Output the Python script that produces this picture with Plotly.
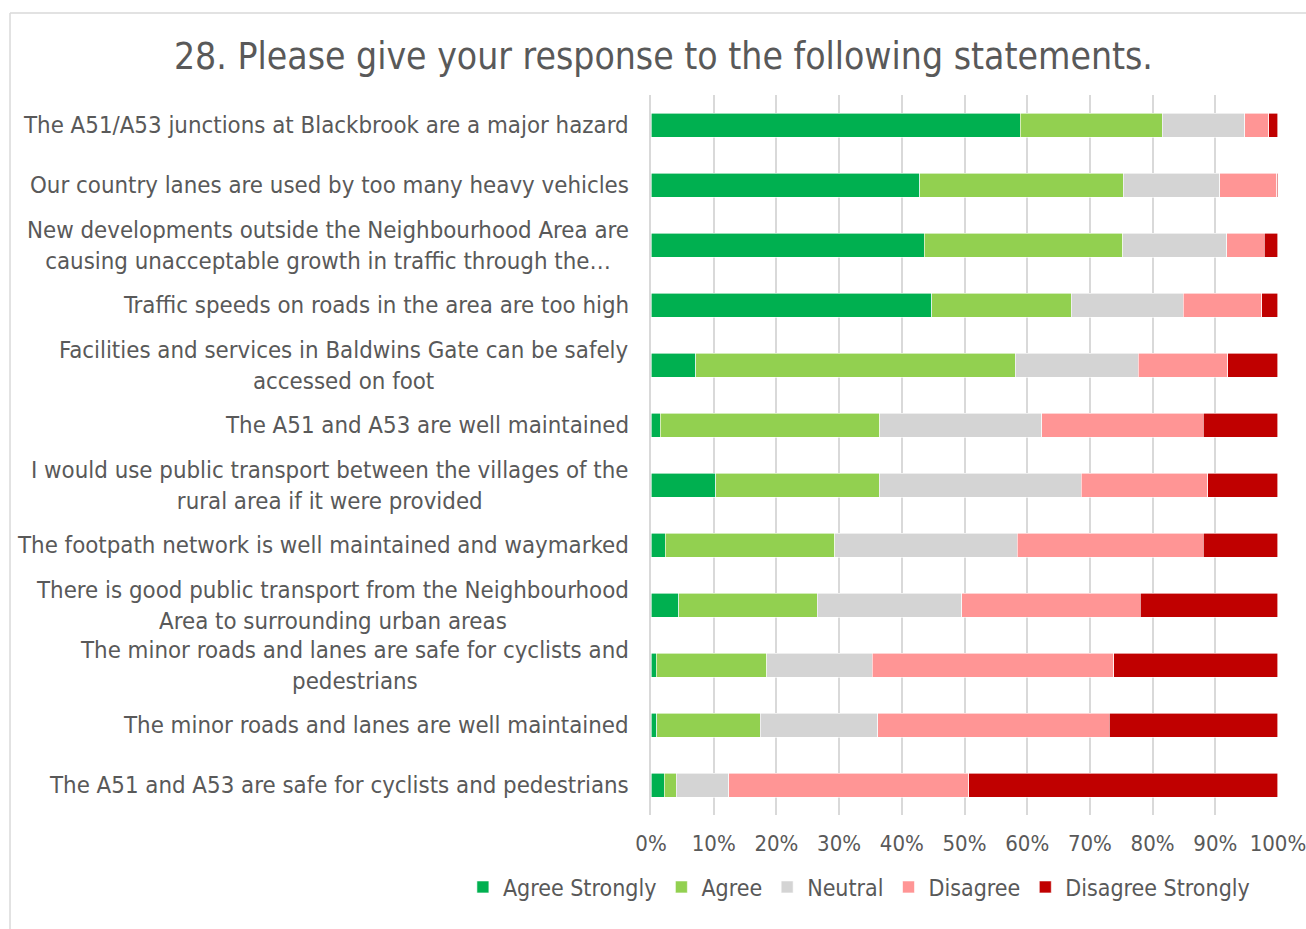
import plotly.graph_objects as go

statements = [
    "The A51/A53 junctions at Blackbrook are a major hazard",
    "Our country lanes are used by too many heavy vehicles",
    "New developments outside the Neighbourhood Area are<br>causing unacceptable growth in traffic through the…",
    "Traffic speeds on roads in the area are too high",
    "Facilities and services in Baldwins Gate can be safely<br>accessed on foot",
    "The A51 and A53 are well maintained",
    "I would use public transport between the villages of the<br>rural area if it were provided",
    "The footpath network is well maintained and waymarked",
    "There is good public transport from the Neighbourhood<br>Area to surrounding urban areas",
    "The minor roads and lanes are safe for cyclists and<br>pedestrians",
    "The minor roads and lanes are well maintained",
    "The A51 and A53 are safe for cyclists and pedestrians",
]

agree_strongly = [58.9, 42.9, 43.6, 44.8, 7.1, 1.5, 10.3, 2.3, 4.4, 0.8, 0.9, 2.1]
agree = [22.6, 32.4, 31.6, 22.2, 51.0, 35.0, 26.1, 27.0, 22.1, 17.7, 16.5, 1.9]
neutral = [13.2, 15.4, 16.6, 17.9, 19.6, 25.8, 32.2, 29.1, 23.1, 16.8, 18.8, 8.4]
disagree = [3.8, 9.1, 6.0, 12.5, 14.3, 25.8, 20.2, 29.7, 28.4, 38.5, 36.9, 38.3]
disagree_strongly = [1.5, 0.2, 2.2, 2.6, 8.0, 11.9, 11.2, 11.9, 22.0, 26.2, 26.9, 49.3]

series = [
    ("Agree Strongly", agree_strongly, "#00B050"),
    ("Agree", agree, "#92D050"),
    ("Neutral", neutral, "#D4D4D4"),
    ("Disagree", disagree, "#FF9595"),
    ("Disagree Strongly", disagree_strongly, "#C00000"),
]

FONT = "DejaVu Sans Condensed"
TEXT = "#595959"
GRID = "#D9D9D9"

fig = go.Figure()
for name, vals, color in series:
    fig.add_trace(go.Bar(
        y=statements, x=vals, name=name, orientation="h",
        marker=dict(color=color, line=dict(color="white", width=0.6)),
    ))

# category labels drawn as annotations so wrapped lines stay centred
for s in statements:
    fig.add_annotation(
        x=0, xref="paper", y=s, yref="y", text=s, showarrow=False,
        xanchor="right", yanchor="middle", align="center", xshift=-20,
        font=dict(family=FONT, size=23.8, color=TEXT),
    )

# chart frame (left and top edges)
fig.add_shape(type="line", xref="paper", yref="paper",
              x0=-1.0223, x1=-1.0223, y0=1.1139, y1=-0.2, line=dict(color=GRID, width=1.5))
fig.add_shape(type="line", xref="paper", yref="paper",
              x0=-1.0223, x1=1.1, y0=1.1139, y1=1.1139, line=dict(color=GRID, width=1.5))

fig.update_layout(
    width=1306, height=929,
    margin=dict(l=651, r=28, t=95, b=114, autoexpand=False),
    barmode="stack", bargap=0.6,
    plot_bgcolor="white", paper_bgcolor="white",
    font=dict(family=FONT, size=22, color=TEXT),
    title=dict(text="28. Please give your response to the following statements.",
               x=0.508, xref="container", xanchor="center",
               y=1 - 56 / 929, yref="container", yanchor="middle",
               font=dict(family=FONT, size=37, color=TEXT)),
    xaxis=dict(range=[0, 100.001], tickvals=list(range(0, 101, 10)),
               ticktext=[f"{v}%" for v in range(0, 101, 10)], showgrid=True,
               gridcolor=GRID, gridwidth=1.5, zeroline=False, showline=False,
               ticklabelstandoff=13, ticklabeloverflow="allow",
               tickfont=dict(size=22, color=TEXT)),
    yaxis=dict(autorange="reversed", showticklabels=False, showgrid=False,
               showline=True, linecolor=GRID, linewidth=1.5),
    legend=dict(orientation="h", x=-0.30, xanchor="left", xref="paper",
                y=-0.10, yanchor="middle", yref="paper",
                font=dict(size=23, color=TEXT), itemwidth=30, traceorder="normal"),
    showlegend=True,
)

fig.write_html("out.html")
